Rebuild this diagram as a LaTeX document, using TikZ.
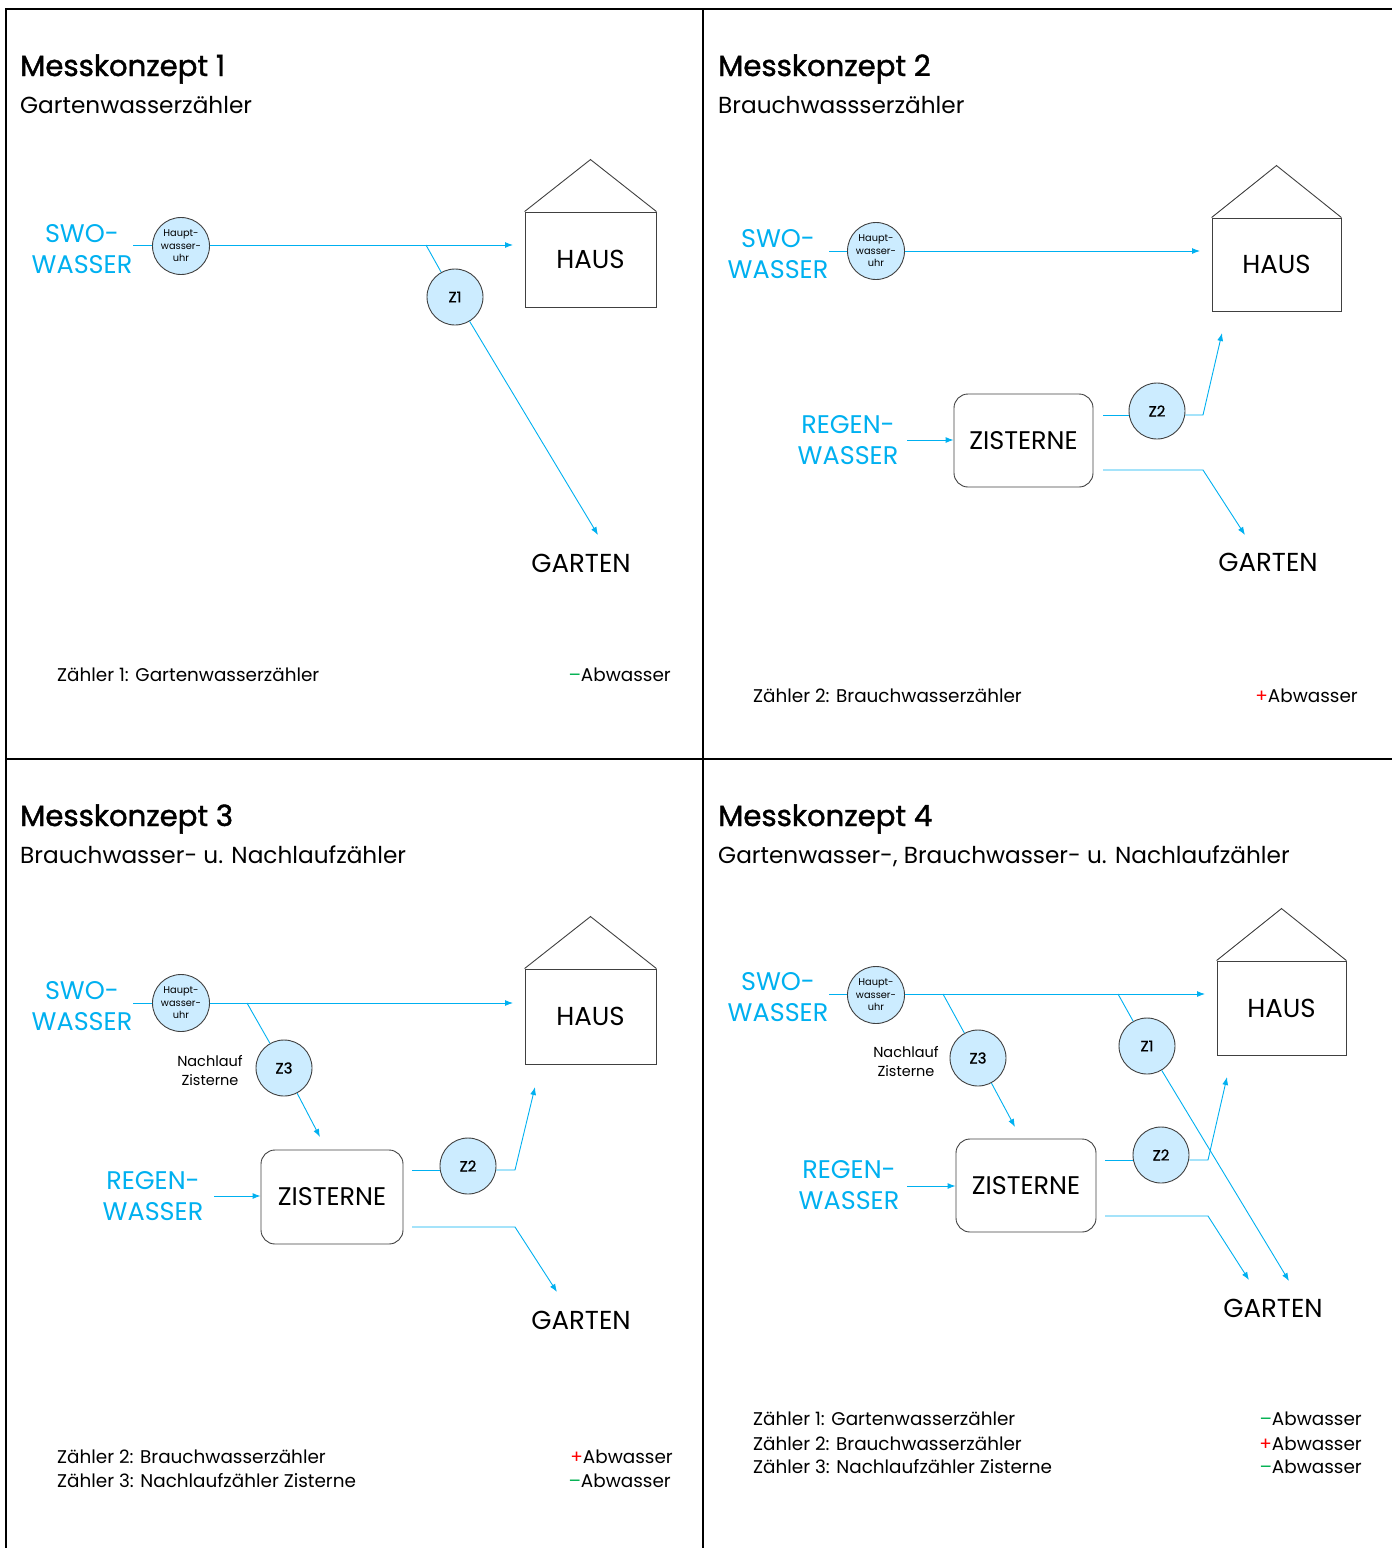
\documentclass[tikz,border=0pt]{standalone}
\usepackage{fontspec}
\setmainfont{Poppins}
\newfontfamily\medfont[FakeBold=1.4]{Poppins}
\newfontfamily\zfont[FakeBold=0.8]{Poppins}
\usetikzlibrary{arrows.meta}
\definecolor{wblue}{RGB}{0,176,240}
\definecolor{cfill}{RGB}{204,236,255}
\definecolor{cdraw}{RGB}{64,64,64}
\definecolor{agreen}{RGB}{0,176,80}
\definecolor{ared}{RGB}{255,0,0}
\tikzset{
 pipe/.style={wblue, line width=0.9pt},
 flow/.style={pipe, -{Latex[length=8pt,width=6pt]}},
 meter/.style={circle, draw=cdraw, fill=cfill, line width=0.9pt, minimum size=56pt, inner sep=0pt, font=\zfont\fontsize{15}{16}\selectfont},
 hmeter/.style={meter, minimum size=57pt, font=\fontsize{9.8}{12.5}\selectfont, align=center},
 ttl/.style={anchor=base west, inner sep=0pt, font=\medfont\fontsize{29.2}{36}\selectfont},
 subttl/.style={anchor=base west, inner sep=0pt, font=\fontsize{23.2}{26}\selectfont},
 source/.style={text=wblue, align=center, font=\fontsize{25.5}{31}\selectfont},
 place/.style={font=\fontsize{26}{28}\selectfont},
 house/.style={draw=cdraw, line width=0.9pt, minimum width=131pt, minimum height=95pt, inner sep=0pt, font=\fontsize{26}{28}\selectfont},
 roof/.style={draw=cdraw, line width=0.9pt},
 tank/.style={draw=cdraw, rounded corners=14pt, line width=0.9pt, minimum width=140pt, minimum height=93pt, inner sep=0pt, font=\fontsize{25.5}{28}\selectfont},
 note/.style={align=center, font=\fontsize{14.5}{19}\selectfont},
 legl/.style={anchor=base west, inner sep=0pt, font=\fontsize{18.4}{24}\selectfont},
 legr/.style={anchor=base east, inner sep=0pt, font=\fontsize{18.4}{24}\selectfont},
 frame/.style={line width=2pt, black}
}
\newcommand{\minus}{{\color{agreen}–}}
\newcommand{\plus}{{\color{ared}+}}
\begin{document}
\begin{tikzpicture}[x=1pt,y=-1pt]
\useasboundingbox (0,0) rectangle (1392,1548);
% frame
\draw[frame] (1392,9) -- (6,9) -- (6,1548);
\draw[frame] (703,9) -- (703,1548);
\draw[frame] (6,759) -- (1392,759);

%%%%% Panel 1
\node[ttl] (t1) at (20,76) {Messkonzept 1};
\node[subttl] (st1) at (20,113) {Gartenwasserzähler};
\node[source] (swo1) at (82,249) {SWO-\\WASSER};
\node[hmeter] (hw1) at (181,246) {Haupt-\\wasser-\\uhr};
\node[house] (h1) at (590.5,259.5) {HAUS};
\draw[roof] (h1.north west) -- ([yshift=52pt]h1.north) -- (h1.north east);
\node[meter] (z1a) at (455,297) {Z1};
\node[place] (g1) at (581,563) {GARTEN};
\coordinate (s1) at (133,245);
\coordinate (e1) at (513,245);
\coordinate (b1) at (426,245);
\coordinate (gt1) at (598,535);
\draw[pipe] (s1) -- (s1 -| hw1.west);
\draw[flow] (s1 -| hw1.east) -- (e1);
\draw[pipe] (b1) -- (z1a);
\draw[flow] (z1a) -- (gt1);
\node[legl] (l1a) at (57,681) {Zähler 1: Gartenwasserzähler};
\node[legr] (r1a) at (671,681) {\minus Abwasser};

%%%%% Panel 2
\node[ttl] (t2) at (718,76) {Messkonzept 2};
\node[subttl] (st2) at (718,113) {Brauchwassserzähler};
\node[source] (swo2) at (778,254) {SWO-\\WASSER};
\node[hmeter] (hw2) at (876,251) {Haupt-\\wasser-\\uhr};
\node[house, minimum width=129pt, minimum height=93pt] (h2) at (1276.5,264.5) {HAUS};
\draw[roof] (h2.north west) -- ([yshift=52pt]h2.north) -- (h2.north east);
\node[source] (rw2) at (848,440) {REGEN-\\WASSER};
\node[tank, minimum width=139pt] (zi2) at (1023.5,440.5) {ZISTERNE};
\node[meter] (z2b) at (1157,411) {Z2};
\node[place] (g2) at (1268,562) {GARTEN};
\coordinate (s2) at (829,251);
\coordinate (e2) at (1200,251);
\coordinate (rs2) at (907,440);
\coordinate (a2) at (1103,415);
\coordinate (k2) at (1203,415);
\coordinate (ht2) at (1222,333);
\coordinate (c2) at (1103,470);
\coordinate (m2) at (1203,470);
\coordinate (gt2) at (1245,535);
\draw[pipe] (s2) -- (s2 -| hw2.west);
\draw[flow] (s2 -| hw2.east) -- (e2);
\draw[flow] (rs2) -- (rs2 -| zi2.west);
\draw[pipe] (a2) -- (a2 -| z2b.west);
\draw[flow] (a2 -| z2b.east) -- (k2) -- (ht2);
\draw[flow] (c2) -- (m2) -- (gt2);
\node[legl] (l2a) at (753,702) {Zähler 2: Brauchwasserzähler};
\node[legr] (r2a) at (1358,702) {\plus Abwasser};

%%%%% Panel 3
\node[ttl] (t3) at (20,826) {Messkonzept 3};
\node[subttl] (st3) at (20,863) {Brauchwasser- u. Nachlaufzähler};
\node[source] (swo3) at (82,1006) {SWO-\\WASSER};
\node[hmeter] (hw3) at (181,1003) {Haupt-\\wasser-\\uhr};
\node[house] (h3) at (590.5,1016.5) {HAUS};
\draw[roof] (h3.north west) -- ([yshift=52pt]h3.north) -- (h3.north east);
\node[meter] (z3c) at (284,1068) {Z3};
\node[note] (n3) at (210,1071) {Nachlauf\\Zisterne};
\node[source] (rw3) at (153,1196) {REGEN-\\WASSER};
\node[tank, minimum width=142pt, minimum height=94pt] (zi3) at (332,1197) {ZISTERNE};
\node[meter] (z3b) at (468,1166) {Z2};
\node[place] (g3) at (581,1320) {GARTEN};
\coordinate (s3) at (133,1003);
\coordinate (e3) at (513,1003);
\coordinate (b3) at (247,1003);
\coordinate (zt3) at (320,1137);
\coordinate (rs3) at (214,1196);
\coordinate (a3) at (412,1170);
\coordinate (k3) at (515,1170);
\coordinate (ht3) at (535,1087);
\coordinate (c3) at (412,1227);
\coordinate (m3) at (515,1227);
\coordinate (gt3) at (557,1292);
\draw[pipe] (s3) -- (s3 -| hw3.west);
\draw[flow] (s3 -| hw3.east) -- (e3);
\draw[pipe] (b3) -- (z3c);
\draw[flow] (z3c) -- (zt3);
\draw[flow] (rs3) -- (rs3 -| zi3.west);
\draw[pipe] (a3) -- (a3 -| z3b.west);
\draw[flow] (a3 -| z3b.east) -- (k3) -- (ht3);
\draw[flow] (c3) -- (m3) -- (gt3);
\node[legl] (l3a) at (57,1463) {Zähler 2: Brauchwasserzähler};
\node[legl] (l3b) at (57,1487) {Zähler 3: Nachlaufzähler Zisterne};
\node[legr] (r3a) at (673,1463) {\plus Abwasser};
\node[legr] (r3b) at (671,1487) {\minus Abwasser};

%%%%% Panel 4
\node[ttl] (t4) at (718,826) {Messkonzept 4};
\node[subttl] (st4) at (718,863) {Gartenwasser-, Brauchwasser- u. Nachlaufzähler};
\node[source] (swo4) at (778,997) {SWO-\\WASSER};
\node[hmeter] (hw4) at (876,995) {Haupt-\\wasser-\\uhr};
\node[house, minimum width=129pt, minimum height=94pt] (h4) at (1281.5,1008) {HAUS};
\draw[roof] (h4.north west) -- ([yshift=52pt]h4.north) -- (h4.north east);
\node[meter] (z4c) at (978,1058) {Z3};
\node[note] (n4) at (906,1062) {Nachlauf\\Zisterne};
\node[meter] (z4a) at (1147,1046) {Z1};
\node[source] (rw4) at (849,1185) {REGEN-\\WASSER};
\node[tank] (zi4) at (1026,1185.5) {ZISTERNE};
\node[meter] (z4b) at (1161,1155) {Z2};
\node[place] (g4) at (1273,1308) {GARTEN};
\coordinate (s4) at (829,994);
\coordinate (e4) at (1205,994);
\coordinate (b4c) at (943,994);
\coordinate (zt4) at (1015,1127);
\coordinate (b4a) at (1118,994);
\coordinate (gz4) at (1289,1281);
\coordinate (rs4) at (907,1186);
\coordinate (a4) at (1105,1160);
\coordinate (k4) at (1208,1160);
\coordinate (ht4) at (1227,1077);
\coordinate (c4) at (1105,1216);
\coordinate (m4) at (1208,1216);
\coordinate (gt4) at (1249,1280);
\draw[pipe] (s4) -- (s4 -| hw4.west);
\draw[flow] (s4 -| hw4.east) -- (e4);
\draw[pipe] (b4c) -- (z4c);
\draw[flow] (z4c) -- (zt4);
\draw[pipe] (b4a) -- (z4a);
\draw[flow] (z4a) -- (gz4);
\draw[flow] (rs4) -- (rs4 -| zi4.west);
\draw[pipe] (a4) -- (a4 -| z4b.west);
\draw[flow] (a4 -| z4b.east) -- (k4) -- (ht4);
\draw[flow] (c4) -- (m4) -- (gt4);
\node[legl] (l4a) at (753,1425) {Zähler 1: Gartenwasserzähler};
\node[legl] (l4b) at (753,1450) {Zähler 2: Brauchwasserzähler};
\node[legl] (l4c) at (753,1473) {Zähler 3: Nachlaufzähler Zisterne};
\node[legr] (r4a) at (1362,1425) {\minus Abwasser};
\node[legr] (r4b) at (1362,1450) {\plus Abwasser};
\node[legr] (r4c) at (1362,1473) {\minus Abwasser};
\end{tikzpicture}
\end{document}
